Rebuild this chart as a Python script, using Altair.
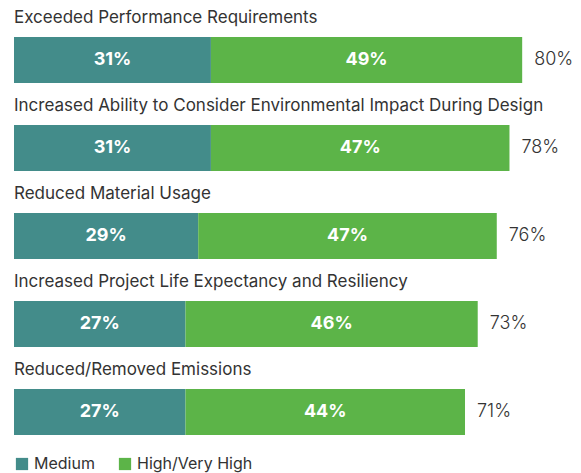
import altair as alt
import pandas as pd

categories = [
    "Exceeded Performance Requirements",
    "Increased Ability to Consider Environmental Impact During Design",
    "Reduced Material Usage",
    "Increased Project Life Expectancy and Resiliency",
    "Reduced/Removed Emissions",
]
medium = [31, 31, 29, 27, 27]
high = [49, 47, 47, 46, 44]
totals = [80, 78, 76, 73, 71]
series = ["Medium", "High/Very High"]
colors = ["#438C8A", "#5CB448"]

rows = []
for c, m, h in zip(categories, medium, high):
    rows.append({"category": c, "series": series[0], "start": 0, "end": m, "label": f"{m}%"})
    rows.append({"category": c, "series": series[1], "start": m, "end": m + h, "label": f"{h}%"})
df = pd.DataFrame(rows)
df["mid"] = (df["start"] + df["end"]) / 2

tot = pd.DataFrame({"category": categories, "total": totals,
                    "label": [f"{t}%" for t in totals]})

FONT = "Inter"
xscale = alt.Scale(domain=[0, 88], nice=False, zero=True)
yenc = alt.Y("category:N", sort=categories, axis=None,
             scale=alt.Scale(paddingInner=0, paddingOuter=0))

bars = alt.Chart(df).mark_bar(size=46).encode(
    x=alt.X("start:Q", scale=xscale, axis=None),
    x2="end:Q",
    y=yenc,
    color=alt.Color("series:N", sort=series,
                    scale=alt.Scale(domain=series, range=colors),
                    legend=alt.Legend(title=None, orient="none", legendX=0, legendY=440,
                                      direction="horizontal", symbolType="square",
                                      symbolSize=150, symbolStrokeWidth=0,
                                      labelFontSize=16, labelFont=FONT, labelColor="#333333",
                                      columnPadding=22, symbolOffset=0)),
)

inner = alt.Chart(df).mark_text(color="white", fontWeight="bold", fontSize=18, font=FONT,
                                baseline="middle", align="center").encode(
    x=alt.X("mid:Q", scale=xscale),
    y=yenc,
    text="label:N",
)

cat_labels = alt.Chart(tot).mark_text(align="left", baseline="middle", dy=-42,
                                      fontSize=17, font=FONT, color="#333333").encode(
    x=alt.value(0),
    y=yenc,
    text="category:N",
)

total_labels = alt.Chart(tot).mark_text(align="left", baseline="middle", dx=12,
                                        fontSize=18, fontWeight=300, font=FONT,
                                        color="#333333").encode(
    x=alt.X("total:Q", scale=xscale),
    y=yenc,
    text="label:N",
)

chart = alt.layer(bars, inner, cat_labels, total_labels).properties(
    width=559, height=440,
    autosize=alt.AutoSizeParams(type="none"),
    padding={"left": 6, "top": 8, "right": 0, "bottom": 17},
).configure_view(stroke=None)

chart.save("out.html", embed_options={"renderer": "svg", "actions": False})
